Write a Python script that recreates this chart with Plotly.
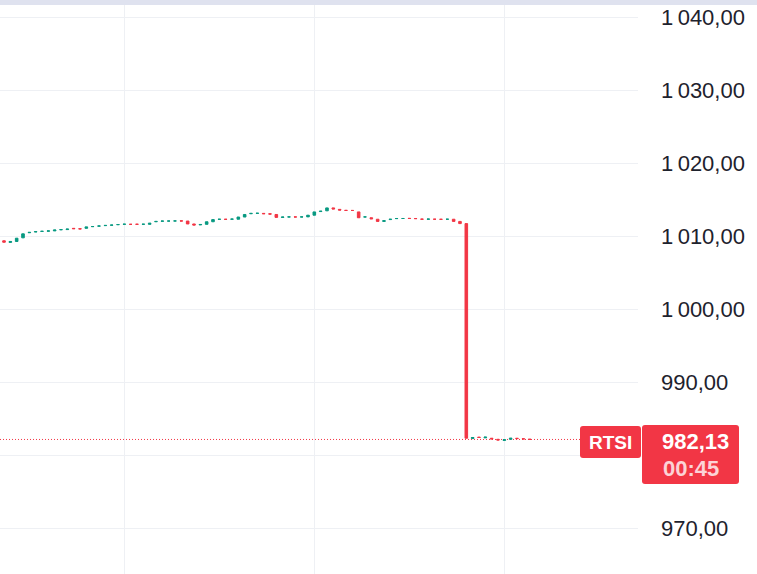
import plotly.graph_objects as go

# ---- data ----
opens = [
    1009.35, 1009.12, 1009.25, 1009.75, 1010.45, 1010.55, 1010.62, 1010.66, 1010.70, 1010.85,
    1010.88, 1011.05, 1011.00, 1011.05, 1011.28, 1011.35, 1011.42, 1011.48, 1011.55, 1011.60,
    1011.60, 1011.62, 1011.60, 1011.60, 1011.95, 1012.02, 1012.05, 1012.05, 1012.08, 1012.05,
    1011.65, 1011.52, 1011.60, 1011.95, 1012.28, 1012.30, 1012.30, 1012.30, 1012.60, 1013.05,
    1013.10, 1013.10, 1013.05, 1012.95, 1012.55, 1012.60, 1012.62, 1012.60, 1012.62, 1012.85,
    1013.35, 1013.45, 1013.85, 1013.65, 1013.52, 1013.50, 1013.30, 1012.60, 1012.50, 1012.30,
    1012.00, 1012.25, 1012.38, 1012.40, 1012.42, 1012.40, 1012.32, 1012.30, 1012.30, 1012.30,
    1012.30, 1012.30, 1012.00, 1011.70,
    982.25, 982.45, 982.35, 982.30, 982.15, 982.00, 982.15, 982.30, 982.22, 982.18,
]
closes = [
    1009.15, 1009.25, 1009.70, 1010.30, 1010.50, 1010.60, 1010.65, 1010.70, 1010.82, 1010.88,
    1010.95, 1011.00, 1010.97, 1011.25, 1011.30, 1011.38, 1011.45, 1011.50, 1011.57, 1011.62,
    1011.60, 1011.60, 1011.62, 1011.75, 1012.00, 1012.05, 1012.05, 1012.07, 1012.05, 1011.65,
    1011.50, 1011.58, 1011.95, 1012.25, 1012.30, 1012.28, 1012.32, 1012.60, 1012.95, 1013.10,
    1013.12, 1013.05, 1013.00, 1012.55, 1012.60, 1012.62, 1012.60, 1012.62, 1012.85, 1013.30,
    1013.40, 1013.85, 1013.70, 1013.55, 1013.50, 1013.50, 1012.50, 1012.62, 1012.35, 1012.00,
    1012.10, 1012.30, 1012.40, 1012.40, 1012.40, 1012.38, 1012.30, 1012.32, 1012.30, 1012.28,
    1012.30, 1012.00, 1011.70, 982.30,
    982.40, 982.40, 982.45, 982.20, 982.05, 982.10, 982.30, 982.25, 982.20, 982.13,
]
symbol = "RTSI"
last_price = 982.13
last_price_text = "982,13"
countdown = "00:45"
y_tick_vals = [1040, 1030, 1020, 1010, 1000, 990, 980, 970]
y_tick_text = ["1\u202f040,00", "1\u202f030,00", "1\u202f020,00", "1\u202f010,00",
               "1\u202f000,00", "990,00", "", "970,00"]

GREEN = "#089981"
RED = "#F23645"
GRID = "#eef0f4"
TEXT = "#1e222d"

W, H = 757, 574
ML, MR, MT, MB = 0, 119, 0, 0
PW, PH = W - ML - MR, H - MT - MB

highs = [max(o, c) for o, c in zip(opens, closes)]
lows = [min(o, c) for o, c in zip(opens, closes)]
xs = list(range(len(opens)))

fig = go.Figure()
fig.add_trace(go.Candlestick(
    x=xs, open=opens, high=highs, low=lows, close=closes,
    increasing=dict(line=dict(color=GREEN, width=1), fillcolor=GREEN),
    decreasing=dict(line=dict(color=RED, width=1), fillcolor=RED),
    whiskerwidth=0, hoverinfo="skip", showlegend=False,
))


def px2paper(x, y):
    return (x - ML) / PW, 1 - (y - MT) / PH


def rrect(x0, y0, x1, y1, r):
    def p(x, y):
        a, b = px2paper(x, y)
        return f"{a:.5f},{b:.5f}"
    return (f"M {p(x0 + r, y0)} L {p(x1 - r, y0)} Q {p(x1, y0)} {p(x1, y0 + r)} "
            f"L {p(x1, y1 - r)} Q {p(x1, y1)} {p(x1 - r, y1)} L {p(x0 + r, y1)} "
            f"Q {p(x0, y1)} {p(x0, y1 - r)} L {p(x0, y0 + r)} Q {p(x0, y0)} {p(x0 + r, y0)} Z")


shapes = []
# last price dotted line
shapes.append(dict(type="line", xref="paper", yref="y", x0=0, x1=px2paper(580, 0)[0],
                   y0=last_price, y1=last_price, line=dict(color=RED, width=1, dash="1px,2px"),
                   layer="below"))
# top band
shapes.append(dict(type="rect", xref="paper", yref="paper", x0=0, x1=W / PW,
                   y0=px2paper(0, 5)[1], y1=1, fillcolor="#dfe2ef", line=dict(width=0),
                   layer="above"))
# symbol label box
shapes.append(dict(type="path", xref="paper", yref="paper", path=rrect(580, 426, 641, 458, 3),
                   fillcolor=RED, line=dict(width=0), layer="above"))
# price label box
shapes.append(dict(type="path", xref="paper", yref="paper", path=rrect(642, 425, 739, 484, 3),
                   fillcolor=RED, line=dict(width=0), layer="above"))

FONT = "Liberation Sans, Arial"
annotations = [
    dict(text=f"<b>{symbol}</b>", xref="paper", yref="paper",
         x=px2paper(610.5, 0)[0], y=px2paper(0, 442)[1], xanchor="center", yanchor="middle",
         showarrow=False, font=dict(family=FONT, size=19, color="white")),
    dict(text=f"<b>{last_price_text}</b>", xref="paper", yref="paper",
         x=px2paper(660, 0)[0], y=px2paper(0, 441)[1], xanchor="left", yanchor="middle",
         showarrow=False, font=dict(family=FONT, size=22, color="white")),
    dict(text=f"<b>{countdown}</b>", xref="paper", yref="paper",
         x=px2paper(661, 0)[0], y=px2paper(0, 469)[1], xanchor="left", yanchor="middle",
         showarrow=False, font=dict(family=FONT, size=22, color="rgba(255,255,255,0.78)")),
]

fig.update_layout(
    width=W, height=H, autosize=False,
    margin=dict(l=ML, r=MR, t=MT, b=MB, pad=0),
    paper_bgcolor="white", plot_bgcolor="white",
    boxgap=0.42,
    shapes=shapes, annotations=annotations,
    showlegend=False,
    xaxis=dict(range=[-0.632, 100.11], rangeslider=dict(visible=False),
               tickvals=[19.1, 49.1, 79.1], showticklabels=False, ticks="",
               showgrid=True, gridcolor=GRID, gridwidth=1, zeroline=False, showline=False,
               fixedrange=True),
    yaxis=dict(range=[963.70, 1042.33], side="right", tickvals=y_tick_vals, ticktext=y_tick_text,
               showgrid=True, gridcolor=GRID, gridwidth=1, zeroline=False, showline=False,
               ticks="", ticklabelstandoff=22,
               tickfont=dict(family=FONT, size=22, color=TEXT),
               fixedrange=True),
)

fig.write_html("out.html", config={"displayModeBar": False},
               post_script="document.body.style.margin='0';document.body.style.padding='0';")
